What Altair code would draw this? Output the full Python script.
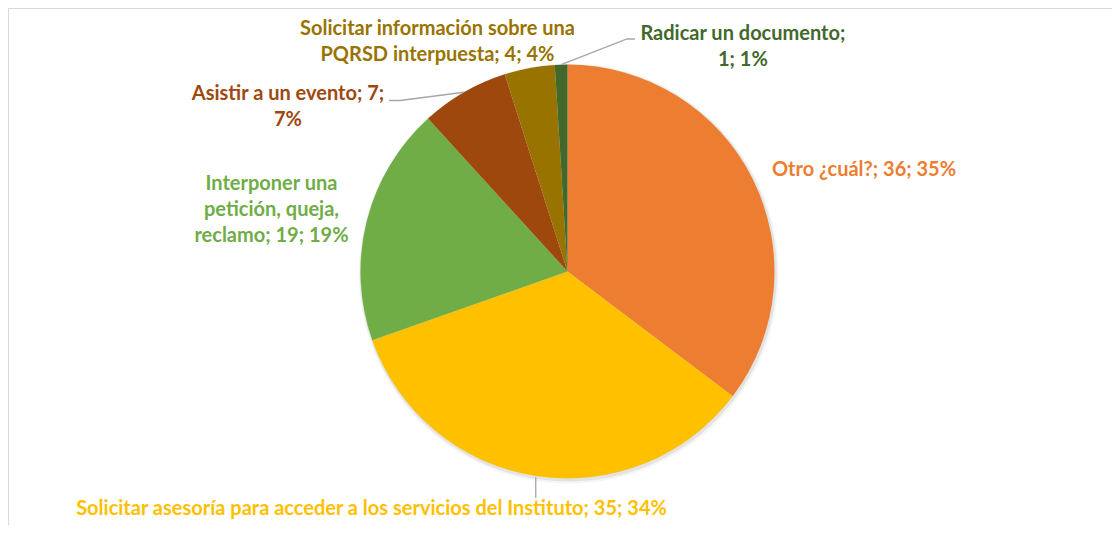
import math
import altair as alt
import pandas as pd

# ---- data ----
categories = [
    "Otro ¿cuál?",
    "Solicitar asesoría para acceder a los servicios del Instituto",
    "Interponer una petición, queja, reclamo",
    "Asistir a un evento",
    "Solicitar información sobre una PQRSD interpuesta",
    "Radicar un documento",
]
values = [36, 35, 19, 7, 4, 1]
colors = ["#ED7D31", "#FFC000", "#70AD47", "#9E480E", "#997300", "#43682B"]
# label text wrapping as in the original (| = line break)
label_wraps = [
    "Otro ¿cuál?",
    "Solicitar asesoría para acceder a los servicios del Instituto",
    "Interponer una|petición, queja,|reclamo",
    "Asistir a un evento",
    "Solicitar información sobre una|PQRSD interpuesta",
    "Radicar un documento",
]
sep_name_value = ["; ", "; ", "; ", "; ", "; ", ";|"]
sep_value_pct = ["; ", "; ", "; ", ";|", "; ", "; "]

# ---- layout ----
W, H = 1104, 517
CX, CY = 559.5, 263.5
R = 207
LABEL_R = 215
LH = 26
label_layout = {
    categories[0]: dict(align="left", dx=12, dy=-6),
    categories[1]: dict(align="center", dx=-163, dy=25),
    categories[2]: dict(align="center", dx=-87.5, dy=-9.5),
    categories[3]: dict(align="center", dx=-172, dy=22),
    categories[4]: dict(align="center", dx=-90.5, dy=-18),
    categories[5]: dict(align="center", dx=182, dy=-10),
}
FONT = "Lato"
FS = 20

total = sum(values)
rows = []
cum = 0
for i, (c, v) in enumerate(zip(categories, values)):
    pct = round(v / total * 100)
    label = f"{label_wraps[i]}{sep_name_value[i]}{v}{sep_value_pct[i]}{pct}%"
    rows.append(dict(idx=i, category=c, value=v, start=cum, end=cum + v,
                     mid=cum + v / 2, label=label))
    cum += v
df = pd.DataFrame(rows)

theta_scale = alt.Scale(domain=[0, total], range=[0, 2 * math.pi])
color_scale = alt.Scale(domain=categories, range=colors)

base = alt.Chart(df)

# soft shadow
shadow_df = pd.DataFrame({"k": [0]})
shadows = []
for rr, op, off in [(210, 0.04, 2.0), (208.5, 0.07, 1.5)]:
    shadows.append(
        alt.Chart(shadow_df).mark_arc(theta=0, theta2=2 * math.pi, radius=rr,
                                      fill="#000000", opacity=op)
        .encode(x=alt.value(CX + off * 0.6), y=alt.value(CY + off))
    )

pie = base.mark_arc(radius=R, strokeWidth=0).encode(
    theta=alt.Theta("start:Q", scale=theta_scale),
    theta2="end:Q",
    color=alt.Color("category:N", scale=color_scale, legend=None),
    x=alt.value(CX),
    y=alt.value(CY),
)

texts = []
for c in categories:
    lay = label_layout[c]
    n_lines = df.loc[df.category == c, "label"].iloc[0].count("|") + 1
    dy = lay["dy"] - (n_lines - 1) * LH / 2  # center the text block
    texts.append(
        base.transform_filter(alt.datum.category == c)
        .mark_text(radius=LABEL_R, align=lay["align"], baseline="middle",
                   dx=lay["dx"], dy=dy, font=FONT, fontWeight="bold",
                   fontSize=FS, lineBreak="|", lineHeight=LH)
        .encode(
            theta=alt.Theta("mid:Q", scale=theta_scale),
            text="label:N",
            color=alt.Color("category:N", scale=color_scale, legend=None),
            x=alt.value(CX),
            y=alt.value(CY),
        )
    )

# leader lines: start at slice edge (from data), then elbow to label
def edge(cat, r=R):
    m = df.loc[df.category == cat, "mid"].iloc[0] / total * 2 * math.pi
    return CX + r * math.sin(m), CY - r * math.cos(m)

lines = []
ex, ey = edge(categories[5])
lines += [(0, 0, ex, ey), (0, 1, 619, 31), (0, 2, 627, 31)]
ex, ey = edge(categories[3])
lines += [(1, 0, ex, ey), (1, 1, 392, 92.5), (1, 2, 381, 92.5)]
ex, ey = edge(categories[1])
lines += [(2, 0, ex, ey + 1), (2, 1, ex, 490)]
ldf = pd.DataFrame(lines, columns=["seg", "ord", "px", "py"])
leaders = alt.Chart(ldf).mark_line(color="#A6A6A6", strokeWidth=1.3).encode(
    x=alt.X("px:Q", scale=None, axis=None),
    y=alt.Y("py:Q", scale=None, axis=None),
    detail="seg:N",
    order="ord:Q",
)

border_top = alt.Chart(shadow_df).mark_rule(color="#D9D9D9", strokeWidth=2).encode(
    x=alt.value(-1), x2=alt.value(W), y=alt.value(0)
)
border_left = alt.Chart(shadow_df).mark_rule(color="#D9D9D9", strokeWidth=2).encode(
    x=alt.value(0), y=alt.value(-1), y2=alt.value(H)
)

chart = alt.layer(
    border_top, border_left, *shadows, pie, leaders, *texts
).properties(
    width=W, height=H, padding=0, autosize=alt.AutoSizeParams(type="none"),
    background="white",
).configure_view(stroke=None)

chart.save("out.html", embed_options={"renderer": "svg", "actions": False})
